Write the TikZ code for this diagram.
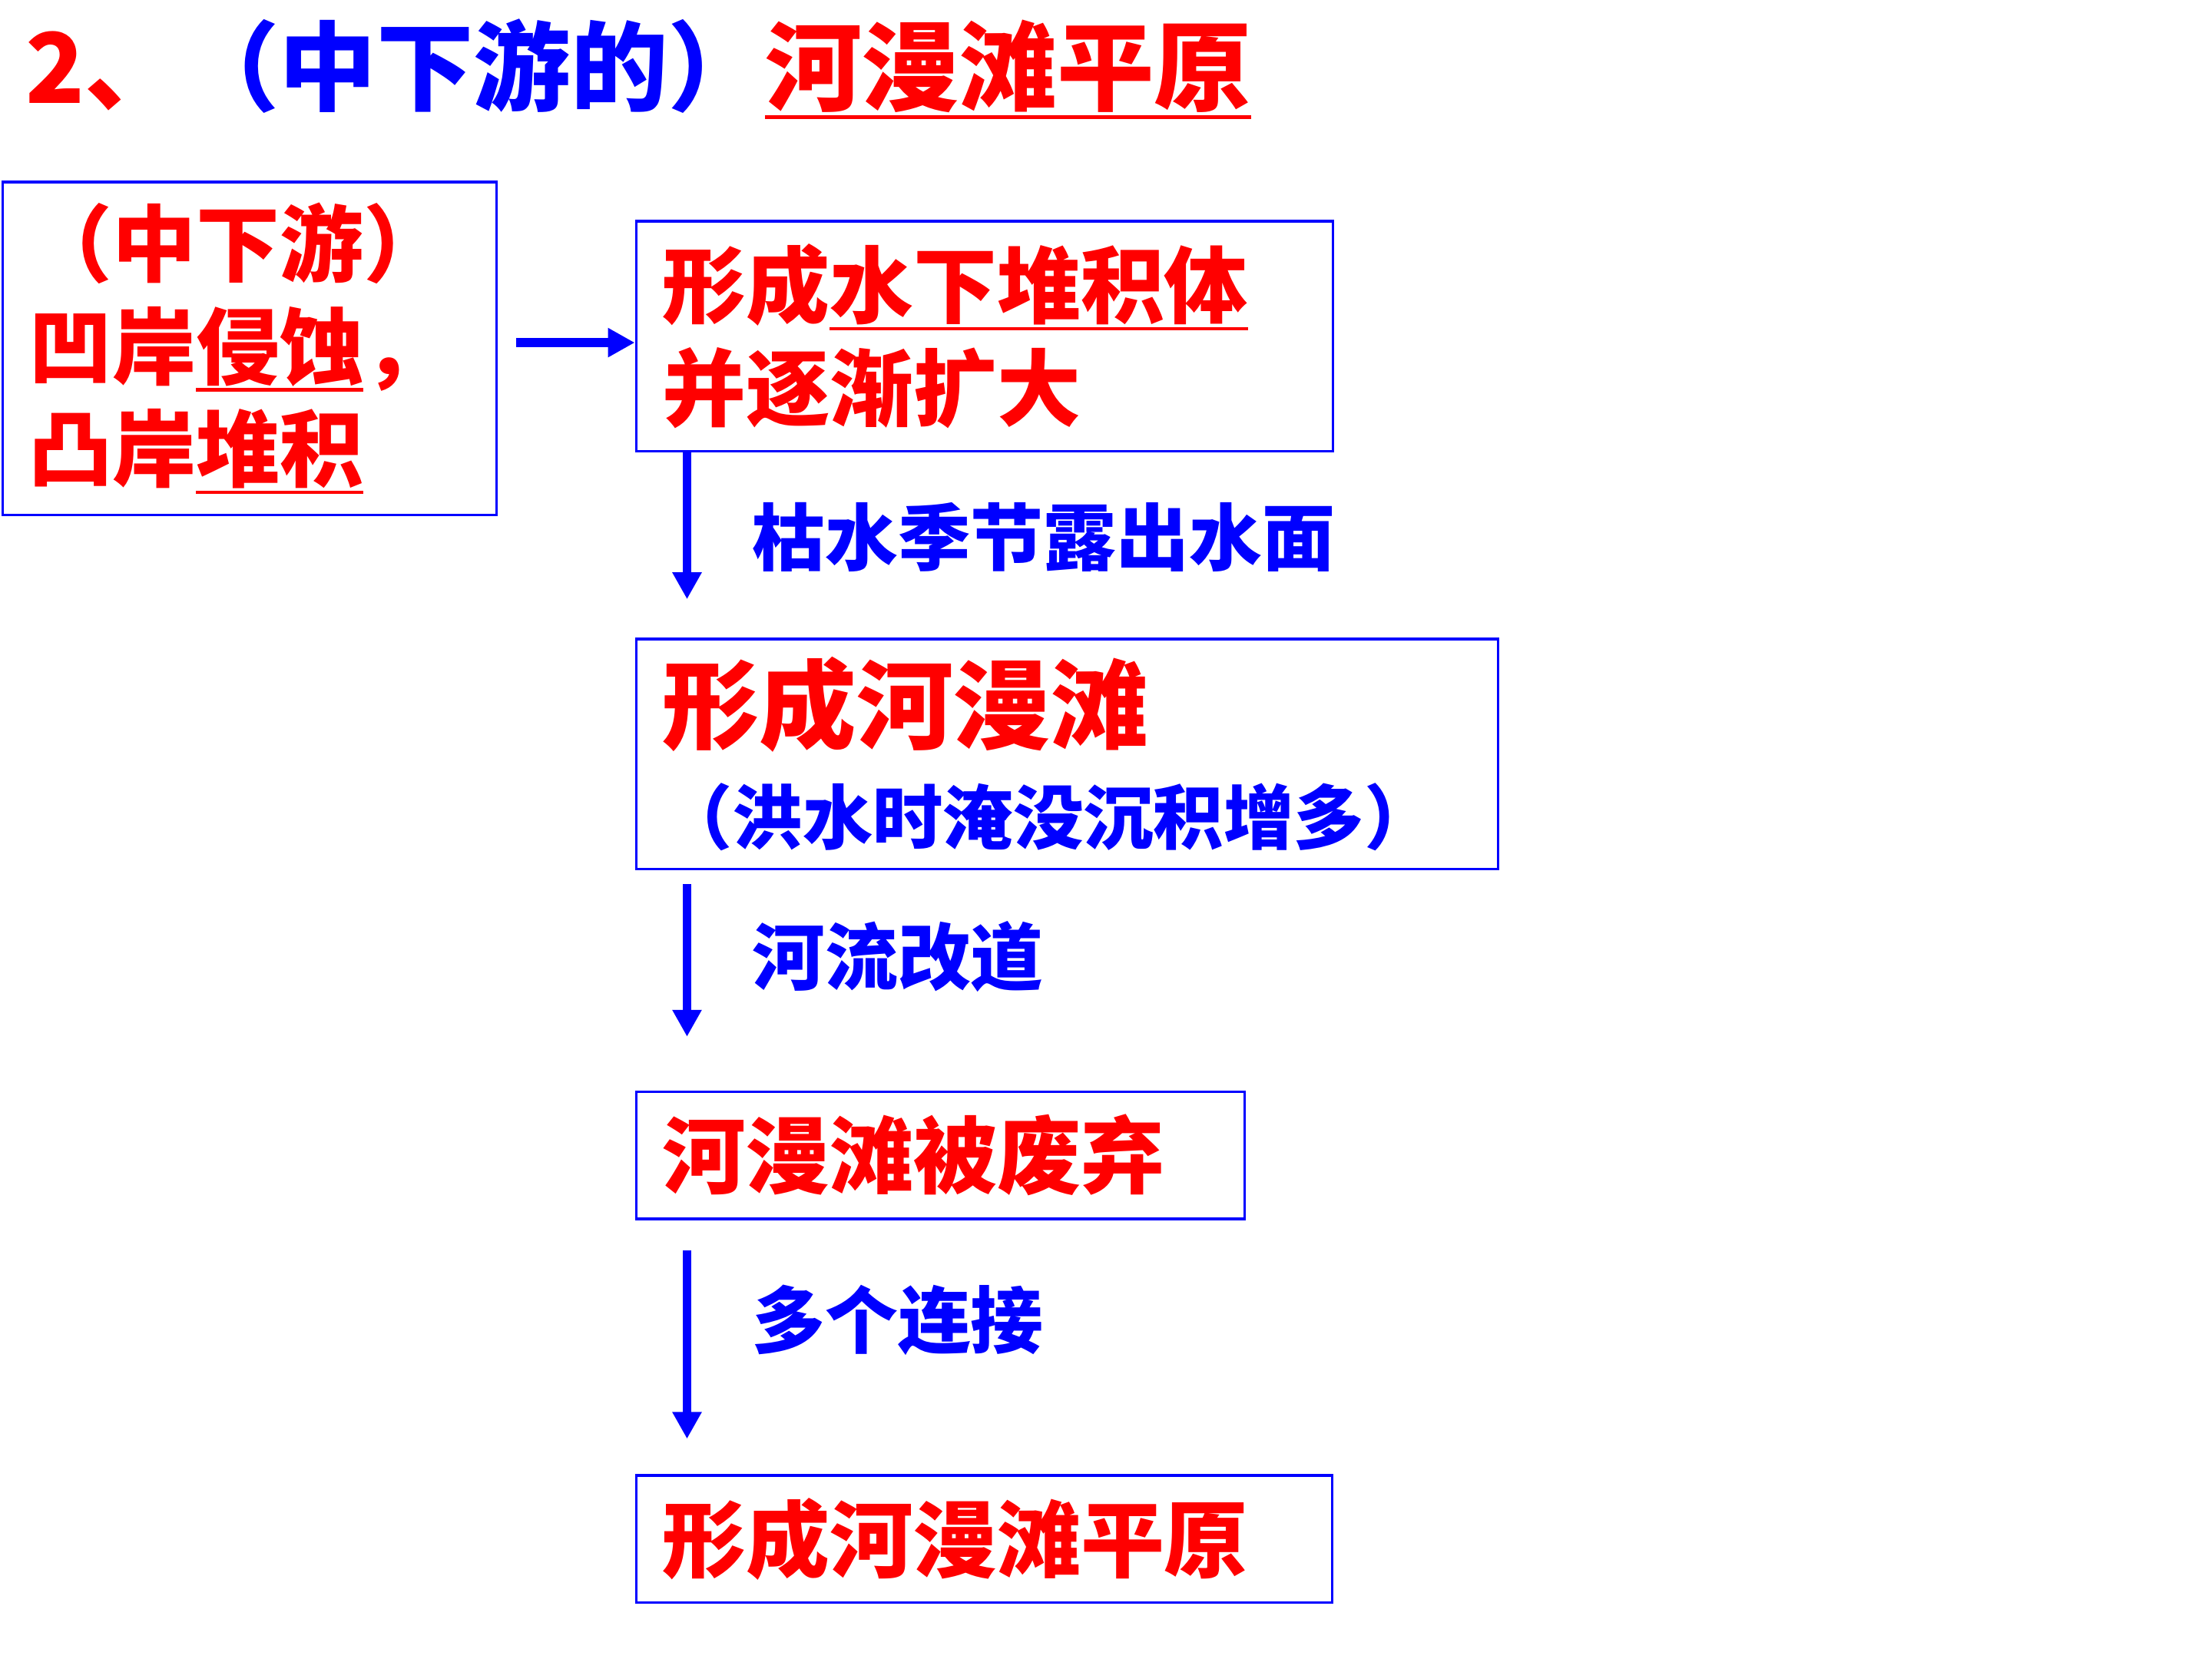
\documentclass[tikz,border=0pt]{standalone}
\usepackage{fontspec}
\setmainfont{Noto Sans CJK SC}
\usetikzlibrary{arrows.meta}
\definecolor{cred}{RGB}{255,0,0}
\definecolor{cblue}{RGB}{0,0,255}
\newcommand{\ulmark}[1]{\setbox0\hbox{#1}\rlap{\rule[-0.16em]{\wd0}{1.3pt}}\box0}

\begin{document}
\begin{tikzpicture}[
    box/.style={rectangle, draw=cblue, line width=1pt, anchor=north west,
                inner xsep=0.34cm, inner ysep=0pt, align=left, text=cred,
                font=\bfseries\fontsize{31}{38}\selectfont},
    arr/.style={-{Triangle[length=0.35cm,width=0.36cm]}, draw=cblue, line width=3.3pt},
    lbl/.style={anchor=west, text=cblue, inner sep=0pt,
                font=\bfseries\fontsize{27}{32}\selectfont},
  ]
  \useasboundingbox (0,0) rectangle (28.8,-21.6);

  % title line
  \node[anchor=west, inner sep=0pt, text=cred,
        font=\bfseries\fontsize{36}{40}\selectfont] (title) at (0.33,-0.9)
    {2、\textcolor{cblue}{（中下游的）}\ulmark{河漫滩平原}};

  % boxes, top to bottom
  \node[box, text width=5.75cm, minimum height=4.335cm] (bank) at (0.018,-2.351)
    {（中下游）\\凹岸\ulmark{侵蚀}，\\凸岸\ulmark{堆积}};
  \node[box, text width=8.39cm, minimum height=2.994cm] (grow) at (8.265,-2.865)
    {形成\ulmark{水下堆积体}\\并逐渐扩大};
  \node[box, text width=10.54cm, minimum height=2.994cm] (plain) at (8.265,-8.302)
    {{\fontsize{36}{38}\selectfont 形成河漫滩}\\
     {\color{cblue}\fontsize{26}{38}\selectfont （洪水时淹没沉积增多）}};
  \node[box, text width=7.24cm, minimum height=1.653cm] (left) at (8.265,-14.198)
    {河漫滩被废弃};
  \node[box, text width=8.38cm, minimum height=1.653cm] (flood) at (8.265,-19.194)
    {形成河漫滩平原};

  % arrows
  \draw[arr, shorten <=0.24cm] ([yshift=0.075cm]bank.east) -- ([yshift=0.075cm]bank.east -| grow.west);
  \draw[arr, shorten >=0.5cm] ([xshift=0.68cm]grow.south west) -- ([xshift=0.68cm]plain.north west)
    node[lbl, midway, xshift=0.79cm, yshift=0.1cm] {枯水季节露出水面};
  \draw[arr, shorten <=0.18cm, shorten >=0.7cm] ([xshift=0.68cm]plain.south west) -- ([xshift=0.68cm]left.north west)
    node[lbl, midway, xshift=0.79cm, yshift=0.31cm] {河流改道};
  \draw[arr, shorten <=0.39cm, shorten >=0.46cm] ([xshift=0.68cm]left.south west) -- ([xshift=0.68cm]flood.north west)
    node[lbl, midway, xshift=0.79cm, yshift=0.35cm] {多个连接};
\end{tikzpicture}
\end{document}
